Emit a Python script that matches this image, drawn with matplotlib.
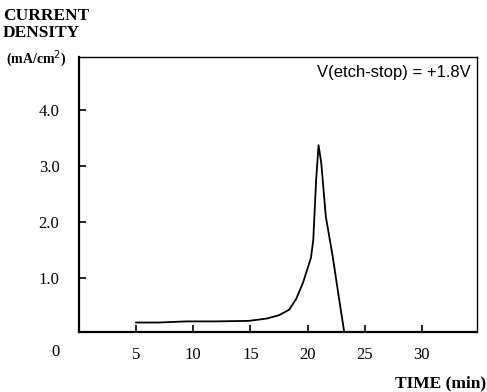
import matplotlib.pyplot as plt

# data
time_min = [5, 7, 9.4, 12, 14.9, 16.4, 17.5, 18.4, 19.0, 19.6, 20.3, 20.5,
            20.75, 20.96, 21.2, 21.6, 22.2, 22.7, 23.2]
current = [0.20, 0.20, 0.22, 0.22, 0.23, 0.27, 0.33, 0.43, 0.62, 0.91, 1.36,
           1.68, 2.75, 3.37, 3.05, 2.09, 1.38, 0.70, 0.04]

x_ticks = [5, 10, 15, 20, 25, 30]
y_ticks = [1.0, 2.0, 3.0, 4.0]
y_labels = ['1.0', '2.0', '3.0', '4.0']

serif = 'Liberation Serif'

fig = plt.figure(figsize=(4.87, 3.92), dpi=100)
ax = fig.add_axes([0.162, 0.153, 0.817, 0.702])

ax.plot(time_min, current, color='black', linewidth=1.3)

ax.set_xlim(0, 34.8)
ax.set_ylim(0.03, 4.95)
ax.set_xticks(x_ticks)
ax.set_xticklabels([str(t) for t in x_ticks], fontfamily=serif, fontsize=12)
ax.set_yticks(y_ticks)
ax.set_yticklabels(y_labels, fontfamily=serif, fontsize=12)
ax.tick_params(direction='in', length=5, width=1.2, pad=11)
ax.tick_params(axis='y', pad=14)

for s in ax.spines.values():
    s.set_linewidth(1.0)
ax.spines['left'].set_linewidth(1.6)
ax.spines['bottom'].set_linewidth(1.6)

# corner origin label
fig.text(56 / 487, 1 - 352 / 392, '0', fontfamily=serif, fontsize=12,
         ha='center', va='center')

fig.text(3 / 487, 1 - 8 / 392, 'CURRENT\nDENSITY', fontfamily=serif,
         fontweight='bold', fontsize=12.5, ha='left', va='top', linespacing=1.1)
fig.text(6 / 487, 1 - 59 / 392, '(mA/cm$^2$)', fontfamily=serif,
         fontweight='bold', fontsize=10, ha='left', va='center')

ax.text(0.985, 0.97, 'V(etch-stop) = +1.8V', transform=ax.transAxes,
        fontfamily='Liberation Sans', fontsize=12, ha='right', va='top')

fig.text(486 / 487, 1 - 383 / 392, 'TIME (min)', fontfamily=serif,
         fontweight='bold', fontsize=12.5, ha='right', va='center')

fig.savefig('out.png', dpi=100)
